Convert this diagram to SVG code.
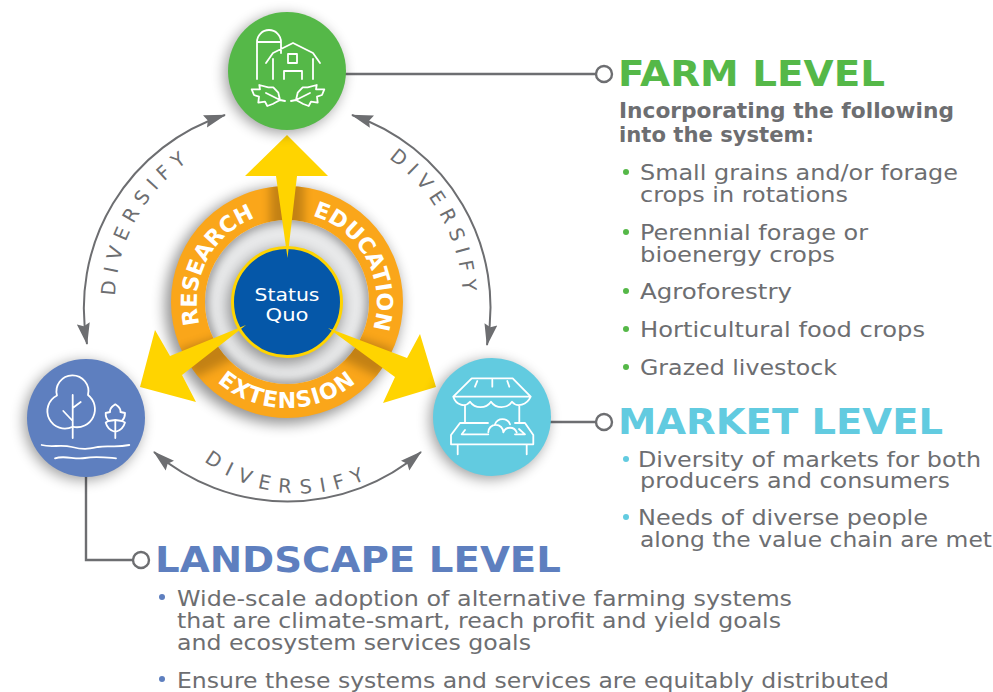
<svg xmlns="http://www.w3.org/2000/svg" width="993" height="692" viewBox="0 0 993 692">
<style>
text{font-family:"DejaVu Sans","Liberation Sans",sans-serif}
.h{font-weight:700;font-size:35px}
.b{font-size:22px;fill:#6d6e71}
.sb{font-size:21.5px;font-weight:700;fill:#6d6e71}
.dv{font-size:19.5px;fill:#6d6e71;letter-spacing:7px}
.ln{fill:none;stroke:#6d6e71;stroke-width:2.4}
.arc{fill:none;stroke:#6d6e71;stroke-width:2}
.ic{fill:none;stroke:#fff;stroke-width:1.8;stroke-linecap:round;stroke-linejoin:round}
.rt{font-size:22px;font-weight:700;fill:#fff;text-anchor:middle}
.sh{fill:#000;filter:url(#sh)}
</style>
<defs>
<filter id="sh" x="-40%" y="-40%" width="180%" height="180%"><feGaussianBlur stdDeviation="7"/></filter>
<filter id="sh2" x="-40%" y="-40%" width="180%" height="180%"><feGaussianBlur stdDeviation="5"/></filter>
<clipPath id="ringClip"><path clip-rule="evenodd" d="M287 186A116 116 0 1 1 287 418A116 116 0 1 1 287 186ZM287 220A82 82 0 1 0 287 384A82 82 0 1 0 287 220Z"/></clipPath>
<clipPath id="discClip"><circle cx="287" cy="302" r="82"/></clipPath>
<marker id="ah" markerWidth="22" markerHeight="14" refX="21" refY="7" orient="auto-start-reverse" markerUnits="userSpaceOnUse"><path d="M0 0.5L22 7L0 13.5L3 7Z" fill="#6d6e71"/></marker>
<path id="pR" d="M205.4 340.1A90 90 0 0 1 271.4 213.4"/>
<path id="pE" d="M302.6 213.4A90 90 0 0 1 369.2 338.6"/>
<path id="pX" d="M200.2 362.8A106 106 0 0 0 373.8 362.8"/>
<path id="pL" d="M115.1 296A172 172 0 0 1 193.3 157.8"/>
<path id="pT" d="M385.4 156.1A176 176 0 0 1 463 302"/>
<path id="pB" d="M204 461A160 160 0 0 0 384 470"/>
</defs>
<g id="connectors">
<path class="ln" d="M345 74H596"/><circle class="ln" cx="604" cy="74" r="8"/>
<path class="ln" d="M550 422H596"/><circle class="ln" cx="604" cy="422" r="8"/>
<path class="ln" d="M86 476V560H133"/><circle class="ln" cx="141" cy="560" r="8"/>
<path class="arc" d="M225 115A203 203 0 0 0 87 344" marker-start="url(#ah)" marker-end="url(#ah)"/>
<path class="arc" d="M352 115A203 203 0 0 1 487 345" marker-start="url(#ah)" marker-end="url(#ah)"/>
<path class="arc" d="M154 452A205 205 0 0 0 421 452" marker-start="url(#ah)" marker-end="url(#ah)"/>
<text class="dv"><textPath href="#pL">DIVERSIFY</textPath></text>
<text class="dv"><textPath href="#pT" startOffset="4">DIVERSIFY</textPath></text>
<text class="dv" style="letter-spacing:8.6px"><textPath href="#pB">DIVERSIFY</textPath></text>
</g>
<g id="ring">
<circle class="sh" cx="283" cy="306" r="118" opacity=".42"/>
<circle cx="287" cy="302" r="84" fill="#e8e9ea"/>
<g clip-path="url(#discClip)"><circle cx="287" cy="302" r="84" fill="none" stroke="#000" stroke-opacity=".4" stroke-width="9" filter="url(#sh2)"/></g>
<circle cx="287" cy="302" r="99" fill="none" stroke="#faa61a" stroke-width="34"/>
<g clip-path="url(#ringClip)" filter="url(#sh2)" fill="#000" opacity=".22"><rect x="270" y="180" width="34" height="50"/><path d="M178 350L240 330L250 350L195 378Z"/><path d="M395 350L335 330L325 350L380 378Z"/></g>
<text class="rt"><textPath href="#pR" startOffset="50%">RESEARCH</textPath></text>
<text class="rt"><textPath href="#pE" startOffset="50%">EDUCATION</textPath></text>
<text class="rt" style="letter-spacing:1.2px"><textPath href="#pX" startOffset="50%">EXTENSION</textPath></text>
</g>
<g id="status-quo">
<circle class="sh" cx="285" cy="306" r="57" opacity=".38"/>
<circle cx="287" cy="302" r="54.5" fill="#0557a8" stroke="#ffd400" stroke-width="3"/>
<text x="254.5" y="301" font-size="18" fill="#fff" textLength="65" lengthAdjust="spacingAndGlyphs">Status</text>
<text x="265.5" y="321" font-size="18" fill="#fff" textLength="43" lengthAdjust="spacingAndGlyphs">Quo</text>
</g>
<g id="arrows" fill="#ffd400">
<path d="M287 135L328 176H297L287.5 258L276 176H245Z"/>
<path d="M246 325L170 356L155 330L140 387L196 402L182 375Z"/>
<path d="M328 328L407 358L420 334L436 387L383 403L395 377Z"/>
</g>
<g id="farm">
<circle class="sh" cx="284" cy="74" r="59" opacity=".38"/>
<circle cx="287" cy="71" r="59" fill="#55b848"/>
<g class="ic"><path d="M257 79V42A12 12 0 0 1 281 42V53M257 42H281M266 63L273 53L293 43L313 53L320 63M273 59V79M313 59V79M284 79V71H302V79M288 54H297V63H288Z"/>
<path d="M251.7 89.3L260 89.3L259.3 85L268.3 87.3L273.3 87.3L278.3 92.7L280 100L272.7 104L267.3 106L265 101.7L258.3 102.7L259 96.7L254 95ZM285 101L280 100L266 93"/>
<path transform="translate(576 0) scale(-1 1)" d="M251.7 89.3L260 89.3L259.3 85L268.3 87.3L273.3 87.3L278.3 92.7L280 100L272.7 104L267.3 106L265 101.7L258.3 102.7L259 96.7L254 95ZM285 101L280 100L266 93"/></g>
</g>
<g id="landscape">
<circle class="sh" cx="83" cy="421" r="59" opacity=".38"/>
<circle cx="86" cy="418" r="59" fill="#5e7fbf"/>
<g class="ic"><path d="M72.7 395V438M72.7 408L80.7 402M72.7 421L63.3 411M72.7 426.7A16.5 16.5 0 1 1 57 395.5A16 16 0 1 1 88 395A18 18 0 0 1 72.7 426.7"/>
<path d="M115.3 404.3Q121 408 120.5 412L125 413Q125 418 122 421L125 422.5Q123 430 115.3 432Q107.5 430 105.7 422.5L108.5 421Q105.5 418 105.7 413L110 412Q109.5 408 115.3 404.3ZM115.3 420V438M115.3 420L108.5 421M115.3 420L122 421"/>
<path d="M41.7 445C52 448 60 444 72 447S88 449 98 447S115 448 129.3 445M55 458.3C65 455 75 460 85 458S102 457 116 458.3"/></g>
</g>
<g id="market">
<circle class="sh" cx="489" cy="420" r="59" opacity=".38"/>
<circle cx="492" cy="417" r="59" fill="#62cbe0"/>
<g class="ic"><path d="M471.7 378.3H512.7L530.7 396.7H453.3ZM477.3 381L475 386.7M492.3 380V386.7M507.3 381L509.3 386.7M453.3 396.7C456 405 465 408 470 401.7C475 409 486 409 491 401.7C496 409 507 409 512 401.7C517 408 527 405 530.7 396.7M465 405.7V422.3M519.3 405.7V422.3M488 423H460L451 435V444.3H533.3V435L525 423H515M461.7 434.3L465 430M461.7 434.3H488.3M515 434.3H525L519 429M488.3 432.3A7.5 7.5 0 0 1 503.3 432.3A7.2 7.2 0 0 1 516.7 432.3M495 424.3A8 8 0 0 1 510 424.3M457.7 444.3V454.3M526.7 444.3V454.3"/></g>
</g>
<g id="farm-text">
<text class="h" x="618" y="86" fill="#55b848" textLength="267" lengthAdjust="spacingAndGlyphs">FARM LEVEL</text>
<text class="sb" x="619" y="118" textLength="335" lengthAdjust="spacingAndGlyphs">Incorporating the following</text>
<text class="sb" x="619" y="142" textLength="195" lengthAdjust="spacingAndGlyphs">into the system:</text>
<g fill="#55b848"><circle cx="626" cy="172" r="3"/><circle cx="626" cy="232" r="3"/><circle cx="626" cy="291" r="3"/><circle cx="626" cy="329" r="3"/><circle cx="626" cy="367" r="3"/></g>
<text class="b" x="640" y="180" textLength="318" lengthAdjust="spacingAndGlyphs">Small grains and/or forage</text>
<text class="b" x="640" y="202" textLength="208" lengthAdjust="spacingAndGlyphs">crops in rotations</text>
<text class="b" x="640" y="240" textLength="228" lengthAdjust="spacingAndGlyphs">Perennial forage or</text>
<text class="b" x="640" y="262" textLength="195" lengthAdjust="spacingAndGlyphs">bioenergy crops</text>
<text class="b" x="640" y="299" textLength="152" lengthAdjust="spacingAndGlyphs">Agroforestry</text>
<text class="b" x="640" y="337" textLength="285" lengthAdjust="spacingAndGlyphs">Horticultural food crops</text>
<text class="b" x="640" y="375" textLength="197" lengthAdjust="spacingAndGlyphs">Grazed livestock</text>
</g>
<g id="market-text">
<text class="h" x="618" y="434" fill="#62cbe0" textLength="325" lengthAdjust="spacingAndGlyphs">MARKET LEVEL</text>
<g fill="#62cbe0"><circle cx="626" cy="459" r="3"/><circle cx="626" cy="517" r="3"/></g>
<text class="b" x="638" y="467" textLength="343" lengthAdjust="spacingAndGlyphs">Diversity of markets for both</text>
<text class="b" x="640" y="488" textLength="310" lengthAdjust="spacingAndGlyphs">producers and consumers</text>
<text class="b" x="638" y="525" textLength="290" lengthAdjust="spacingAndGlyphs">Needs of diverse people</text>
<text class="b" x="640" y="547" textLength="352" lengthAdjust="spacingAndGlyphs">along the value chain are met</text>
</g>
<g id="landscape-text">
<text class="h" x="155" y="572" fill="#5e7fbf" textLength="406" lengthAdjust="spacingAndGlyphs">LANDSCAPE LEVEL</text>
<g fill="#5e7fbf"><circle cx="162" cy="597" r="3"/><circle cx="162" cy="679" r="3"/></g>
<text class="b" x="177" y="606" textLength="615" lengthAdjust="spacingAndGlyphs">Wide-scale adoption of alternative farming systems</text>
<text class="b" x="177" y="628" textLength="604" lengthAdjust="spacingAndGlyphs">that are climate-smart, reach profit and yield goals</text>
<text class="b" x="177" y="650" textLength="354" lengthAdjust="spacingAndGlyphs">and ecosystem services goals</text>
<text class="b" x="177" y="688" textLength="712" lengthAdjust="spacingAndGlyphs">Ensure these systems and services are equitably distributed</text>
</g>
</svg>
